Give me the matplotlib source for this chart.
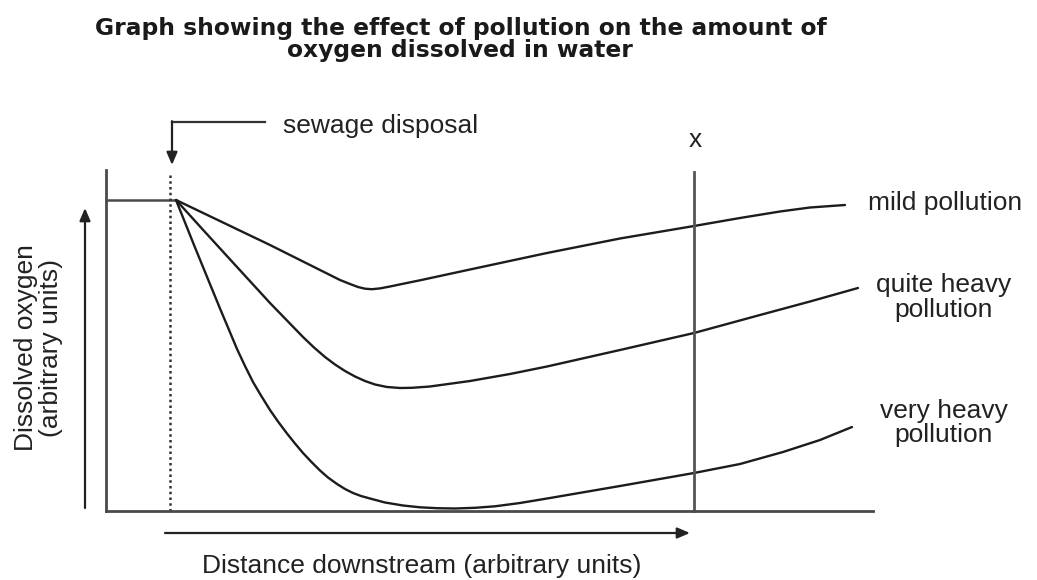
import matplotlib
matplotlib.use("Agg")
import matplotlib.pyplot as plt

# ---------------- data (arbitrary units; x: distance downstream, y: dissolved oxygen) ----------------
start_x = [0, 70]
start_y = [311, 311]

mild_x = [70, 164, 234, 244, 252, 259, 266, 274, 284, 294, 314, 364, 441, 514, 588, 634, 674, 704, 739]
mild_y = [311, 266, 231, 227, 224, 222.3, 221.8, 222.6, 224.5, 226.6, 230.7, 241.5, 258, 272.5, 285, 293,
          299.5, 303.5, 306]

quite_x = [70, 99, 131, 164, 197, 208, 219, 229, 239, 249, 259, 269, 281, 294, 306, 324, 364, 404, 441,
           514, 588, 654, 704, 752]
quite_y = [311, 279, 244, 208, 174, 163.5, 154, 146.5, 140, 134.5, 130, 126.5, 124, 123, 123.2, 124.5,
           130, 137, 144.5, 161, 178, 196, 209.5, 223]

very_x = [70, 79, 88, 97, 106, 114, 122, 131, 139, 147, 155, 164, 172, 181, 189, 197, 205, 214, 222, 231,
          239, 247, 255, 264, 279, 297, 314, 331, 349, 369, 389, 414, 444, 514, 588, 634, 677, 714, 746]
very_y = [311, 288.5, 266, 244, 222, 202.5, 183.5, 162, 145, 129, 115.5, 101, 89.5, 77.5, 67.5, 58, 49.5,
          40.5, 33.5, 27, 22, 18, 15, 12.5, 8.5, 5.5, 3.7, 2.8, 2.5, 3.2, 4.7, 8, 13, 25, 38, 47, 59, 71, 84]

sewage_x = 64        # point of sewage disposal
sewage_top = 336
x_mark = 588         # position "x"
x_mark_top = 339

title = "Graph showing the effect of pollution on the amount of\noxygen dissolved in water"
xlabel = "Distance downstream (arbitrary units)"
ylabel = "Dissolved oxygen\n(arbitrary units)"
label_mild = "mild pollution"
label_quite = "quite heavy\npollution"
label_very = "very heavy\npollution"
label_sewage = "sewage disposal"
label_x = "x"

# ---------------- figure ----------------
W, H = 1037, 580
fig = plt.figure(figsize=(W / 100, H / 100), dpi=100)
fig.patch.set_facecolor("white")

left_px, right_px, bottom_px, top_px = 106, 873, 511, 170
ax = fig.add_axes([left_px / W, (H - bottom_px) / H, (right_px - left_px) / W, (bottom_px - top_px) / H])
ax.set_xlim(0, right_px - left_px)
ax.set_ylim(0, bottom_px - top_px)
for s in ["top", "right"]:
    ax.spines[s].set_visible(False)
for s in ["left", "bottom"]:
    ax.spines[s].set_color("#4a4a4a")
    ax.spines[s].set_linewidth(2.0)
ax.set_xticks([])
ax.set_yticks([])
ax.patch.set_alpha(0)

FONT = "Liberation Sans"
TXT = "#222222"
FS = 19

line_kw = dict(color="#1c1c1c", lw=1.7, solid_capstyle="round", solid_joinstyle="round", clip_on=False)
ax.plot(start_x, start_y, color="#4a4a4a", lw=1.8, clip_on=False)
ax.plot(mild_x, mild_y, **line_kw)
ax.plot(quite_x, quite_y, **line_kw)
ax.plot(very_x, very_y, **line_kw)

# dotted sewage line
ax.plot([sewage_x, sewage_x], [0, sewage_top], color="#333333", lw=1.8, ls=(0, (1.0, 1.3)), clip_on=False)
# X vertical line
ax.plot([x_mark, x_mark], [0, x_mark_top], color="#555555", lw=2.0, clip_on=False)

arrow_style = dict(arrowstyle="-|>,head_length=0.75,head_width=0.32", color="#222222", lw=1.6,
                   shrinkA=0, shrinkB=0)

# sewage disposal bent arrow
ax.plot([159, sewage_x + 2], [389, 389], color="#333333", lw=1.6, clip_on=False,
        solid_joinstyle="miter")
ax.annotate("", xy=(sewage_x + 2, 346), xytext=(sewage_x + 2, 389.8),
            arrowprops=arrow_style, annotation_clip=False)
ax.text(177, 378, label_sewage, ha="left", va="baseline", fontsize=FS, family=FONT, color=TXT)

# x label on top of the vertical line
ax.text(x_mark + 1, 371, label_x, ha="center", va="center", fontsize=FS, family=FONT, color=TXT)

# Y arrow
ax.annotate("", xy=(-21, 303), xytext=(-21, 3), arrowprops=arrow_style, annotation_clip=False)
# X arrow
ax.annotate("", xy=(584, -22), xytext=(59, -22), arrowprops=arrow_style, annotation_clip=False)

# axis labels
ax.text(316, -62, xlabel, ha="center", va="baseline", fontsize=FS, family=FONT, color=TXT)
ax.text(-67.5, 163, ylabel, ha="center", va="center", rotation=90, fontsize=FS, family=FONT,
        color=TXT, linespacing=1.1, multialignment="center")

# curve labels
ax.text(762, 301, label_mild, ha="left", va="baseline", fontsize=FS, family=FONT, color=TXT)
ax.text(838, 194, label_quite, ha="center", va="baseline", fontsize=FS, family=FONT, color=TXT,
        linespacing=1.05, multialignment="center")
ax.text(838, 69, label_very, ha="center", va="baseline", fontsize=FS, family=FONT, color=TXT,
        linespacing=1.0, multialignment="center")

# title
fig.text(0.444, 1 - 57 / H, title, ha="center", va="baseline", fontsize=16.8, fontweight="bold",
         family="DejaVu Sans", color="#1a1a1a", linespacing=0.92, multialignment="center")

fig.savefig("out.png", dpi=100, facecolor="white")
